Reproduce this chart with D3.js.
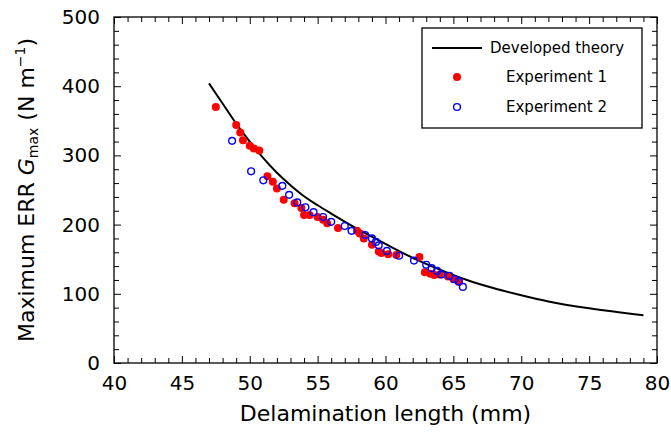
<!DOCTYPE html>
<html><head><meta charset="utf-8">
<script src="https://cdn.jsdelivr.net/npm/d3@7"></script>
<style>
body{margin:0;background:#fff;}
svg{font-family:"DejaVu Sans",sans-serif;}
</style></head>
<body><svg id="c" width="671" height="443"></svg>
<script>
// Theory curve
const theoryX = [47, 48, 49, 50, 51, 52, 53, 54, 55, 56, 58, 60, 62, 64, 66, 68, 70, 72, 75, 79];
const theoryY = [404, 375, 346, 320, 296, 275, 257, 241, 228, 216, 193, 172, 152, 135, 120, 108, 98, 89, 79, 69];
// Experiment 1 (filled red)
const exp1X = [47.5, 49.0, 49.3, 49.5, 50.0, 50.3, 50.7, 51.3, 51.7, 52.0, 52.5, 53.3, 53.8, 54.0, 54.4, 55.0, 55.4, 55.7, 56.5, 57.9, 58.1, 58.4, 59.0, 59.5, 59.7, 60.2, 60.8, 62.5, 62.9, 63.3, 63.6, 64.0, 64.6, 65.0, 65.4];
const exp1Y = [370, 344, 333, 322, 314, 310, 307, 270, 262, 252, 236, 231, 224, 214, 214, 211, 207, 202, 195, 191, 187, 180, 171, 161, 159, 157, 156, 153, 131, 129, 127, 128, 125, 121, 117];
// Experiment 2 (open blue)
const exp2X = [48.7, 50.1, 51.0, 52.4, 52.9, 53.5, 54.1, 54.7, 55.4, 56.0, 57.0, 57.5, 58.5, 59.0, 59.3, 59.5, 60.1, 61.0, 62.1, 63.0, 63.4, 63.8, 64.1, 64.7, 65.1, 65.4, 65.7];
const exp2Y = [321, 277, 264, 256, 243, 232, 225, 218, 211, 204, 198, 191, 185, 180, 175, 170, 162, 155, 148, 142, 137, 133, 128, 126, 121, 118, 110];
const xTicks = [40, 45, 50, 55, 60, 65, 70, 75, 80];
const yTicks = [0, 100, 200, 300, 400, 500];
const legendLabels = ["Developed theory", "Experiment 1", "Experiment 2"];

const svg = d3.select("#c");
const L = 114, R = 657, T = 17, B = 363;
const x = d3.scaleLinear().domain([40, 80]).range([L, R]);
const y = d3.scaleLinear().domain([0, 500]).range([B, T]);
const xMinor = d3.range(40, 81, 1).filter(v => v % 5 !== 0);
const yMinor = d3.range(0, 501, 20).filter(v => v % 100 !== 0);

function styleAxis(g){ g.select(".domain").remove(); g.selectAll("line").attr("stroke","#000").attr("stroke-width",1); }

// bottom
svg.append("g").attr("transform",`translate(0,${B})`)
  .call(d3.axisBottom(x).tickValues(xTicks).tickSizeInner(-7).tickSizeOuter(0).tickPadding(13).tickFormat(d3.format("d")))
  .call(styleAxis).call(g=>g.selectAll("text").attr("font-size",20).attr("fill","#000").attr("font-family","DejaVu Sans"));
svg.append("g").attr("transform",`translate(0,${B})`)
  .call(d3.axisBottom(x).tickValues(xMinor).tickSizeInner(-5).tickSizeOuter(0).tickFormat(""))
  .call(styleAxis);
// top
svg.append("g").attr("transform",`translate(0,${T})`)
  .call(d3.axisTop(x).tickValues(xTicks).tickSizeInner(-7).tickSizeOuter(0).tickFormat(""))
  .call(styleAxis);
svg.append("g").attr("transform",`translate(0,${T})`)
  .call(d3.axisTop(x).tickValues(xMinor).tickSizeInner(-5).tickSizeOuter(0).tickFormat(""))
  .call(styleAxis);
// left
svg.append("g").attr("transform",`translate(${L},0)`)
  .call(d3.axisLeft(y).tickValues(yTicks).tickSizeInner(-7).tickSizeOuter(0).tickPadding(14).tickFormat(d3.format("d")))
  .call(styleAxis).call(g=>g.selectAll("text").attr("font-size",20).attr("fill","#000").attr("font-family","DejaVu Sans"));
svg.append("g").attr("transform",`translate(${L},0)`)
  .call(d3.axisLeft(y).tickValues(yMinor).tickSizeInner(-5).tickSizeOuter(0).tickFormat(""))
  .call(styleAxis);
// right
svg.append("g").attr("transform",`translate(${R},0)`)
  .call(d3.axisRight(y).tickValues(yTicks).tickSizeInner(-7).tickSizeOuter(0).tickFormat(""))
  .call(styleAxis);
svg.append("g").attr("transform",`translate(${R},0)`)
  .call(d3.axisRight(y).tickValues(yMinor).tickSizeInner(-5).tickSizeOuter(0).tickFormat(""))
  .call(styleAxis);

svg.append("rect").attr("x",L).attr("y",T).attr("width",R-L).attr("height",B-T)
  .attr("fill","none").attr("stroke","#000").attr("stroke-width",1.3);

// theory line
const theory = theoryX.map((v,i)=>[v, theoryY[i]]);
svg.append("path").datum(theory)
  .attr("d", d3.line().x(d=>x(d[0])).y(d=>y(d[1])).curve(d3.curveMonotoneX))
  .attr("fill","none").attr("stroke","#000").attr("stroke-width",2);

// experiment 1
svg.append("g").selectAll("circle").data(exp1X.map((v,i)=>[v,exp1Y[i]])).join("circle")
  .attr("cx",d=>x(d[0])).attr("cy",d=>y(d[1])).attr("r",4).attr("fill","#f00");
// experiment 2
svg.append("g").selectAll("circle").data(exp2X.map((v,i)=>[v,exp2Y[i]])).join("circle")
  .attr("cx",d=>x(d[0])).attr("cy",d=>y(d[1])).attr("r",3.4).attr("fill","none").attr("stroke","#00f").attr("stroke-width",1.4);

// legend
const lg = svg.append("g");
lg.append("rect").attr("x",422).attr("y",28).attr("width",220).attr("height",100)
  .attr("fill","#fff").attr("stroke","#000").attr("stroke-width",1.3);
lg.append("line").attr("x1",432).attr("x2",482).attr("y1",48).attr("y2",48).attr("stroke","#000").attr("stroke-width",2);
lg.append("circle").attr("cx",457).attr("cy",77).attr("r",4).attr("fill","#f00");
lg.append("circle").attr("cx",457).attr("cy",107).attr("r",3.4).attr("fill","none").attr("stroke","#00f").attr("stroke-width",1.4);
const ly = [48, 77, 107], lx = [490, 506, 506];
legendLabels.forEach((t,i)=>{
  lg.append("text").attr("x",lx[i]).attr("y",ly[i]).attr("dy","0.35em").attr("font-size",15).attr("fill","#000").text(t);
});

// axis titles
svg.append("text").attr("x",(L+R)/2).attr("y",421).attr("text-anchor","middle").attr("font-size",22).attr("fill","#000")
  .text("Delamination length (mm)");
const yt = svg.append("text").attr("transform",`translate(34,${(T+B)/2}) rotate(-90)`).attr("text-anchor","middle").attr("font-size",22).attr("fill","#000");
yt.append("tspan").text("Maximum ERR ");
yt.append("tspan").attr("font-style","italic").text("G");
yt.append("tspan").attr("font-size",14).attr("dy",4).text("max");
yt.append("tspan").attr("dy",-4).text("  (N m");
yt.append("tspan").attr("font-size",14).attr("dy",-9).text("−1");
yt.append("tspan").attr("dy",9).text(")");
</script></body></html>
